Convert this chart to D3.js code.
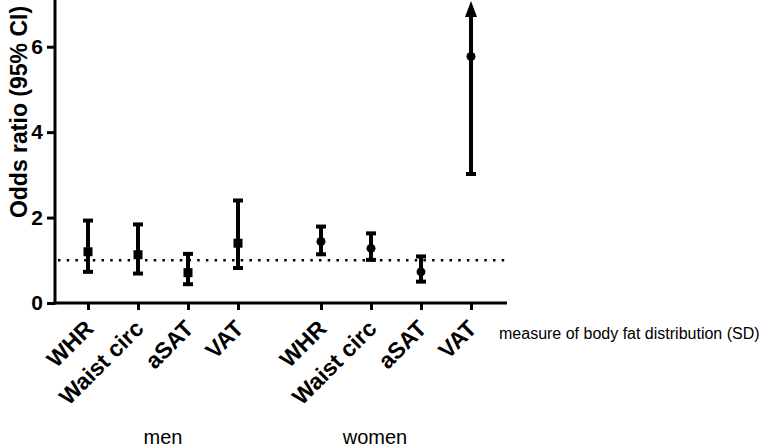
<!DOCTYPE html>
<html><head><meta charset="utf-8">
<script src="https://cdn.jsdelivr.net/npm/d3@7"></script>
<style>
body{margin:0;background:#fff;}
svg{display:block;font-family:"Liberation Sans",Arial,sans-serif;}
</style></head>
<body><svg id="c" width="765" height="447"></svg>
<script>
const categories = ["WHR","Waist circ","aSAT","VAT"];
const groups = ["men","women"];
const menOR    = [1.20, 1.13, 0.71, 1.40];
const menLow   = [0.73, 0.69, 0.44, 0.82];
const menHigh  = [1.93, 1.84, 1.15, 2.40];
const womenOR  = [1.44, 1.28, 0.73, 5.77];
const womenLow = [1.14, 1.01, 0.50, 3.02];
const womenHigh= [1.79, 1.63, 1.09, null]; // null: upper limit beyond axis (arrow)
const yTicks = [0,2,4,6];
const refLine = 1;
const yMax = 7;
const xTitle = "measure of body fat distribution (SD)";
const yTitle = "Odds ratio (95% CI)";

const svg = d3.select("#c");
const axisY = 303, axisX = 55, axisRight = 507;
const y = d3.scaleLinear().domain([0, yMax]).range([axisY, 4]);
const gapSlots = 0.66;
const x = d3.scaleLinear().domain([-0.66, 8.38]).range([axisX, axisRight]);

const points = [];
categories.forEach((c,i)=>points.push({g:0,c,slot:i,or:menOR[i],lo:menLow[i],hi:menHigh[i]}));
categories.forEach((c,i)=>points.push({g:1,c,slot:4+gapSlots+i,or:womenOR[i],lo:womenLow[i],hi:womenHigh[i]}));

// reference line
svg.append("line").attr("x1",axisX+3).attr("x2",axisRight).attr("y1",y(refLine)).attr("y2",y(refLine))
  .attr("stroke","#000").attr("stroke-width",2.5).attr("stroke-dasharray","2.5,6.2");

// axes
const yAxis = d3.axisLeft(y).tickValues(yTicks).tickSize(8).tickPadding(4).tickFormat(d3.format("d"));
const gy = svg.append("g").attr("transform",`translate(${axisX},0)`).call(yAxis);
gy.select(".domain").remove();
gy.append("line").attr("x1",0).attr("x2",0).attr("y1",0).attr("y2",axisY+1.5).attr("stroke","#000").attr("stroke-width",3);
gy.selectAll(".tick line").attr("stroke-width",3);
gy.selectAll(".tick text").attr("font-size",21).attr("font-weight","bold").attr("fill","#000").attr("font-family","Liberation Sans, Arial");

const xAxis = d3.axisBottom(x).tickValues(points.map(p=>p.slot)).tickSize(7).tickFormat("");
const gx = svg.append("g").attr("transform",`translate(0,${axisY})`).call(xAxis);
gx.select(".domain").remove();
gx.append("line").attr("x1",axisX-1.5).attr("x2",axisRight).attr("y1",0).attr("y2",0).attr("stroke","#000").attr("stroke-width",3);
gx.selectAll(".tick line").attr("stroke-width",3);

// category labels
svg.append("g").selectAll("text").data(points).join("text")
  .attr("transform",p=>`translate(${x(p.slot)+7},${axisY+27}) rotate(-45)`)
  .attr("text-anchor","end").attr("font-size",23).attr("font-weight","bold").text(p=>p.c);

// group labels
const groupX = [ (x(0)+x(3))/2, (x(4+gapSlots)+x(7+gapSlots))/2 - 21 ];
svg.append("g").selectAll("text").data(groups).join("text")
  .attr("x",(d,i)=>groupX[i]).attr("y",444).attr("text-anchor","middle").attr("font-size",20).text(d=>d);

svg.append("text").attr("x",499).attr("y",339).attr("font-size",16).text(xTitle);
svg.append("text").attr("transform","translate(27,112) rotate(-90)").attr("text-anchor","middle")
  .attr("font-size",23).attr("font-weight","bold").text(yTitle);

// error bars
const eb = svg.append("g");
points.forEach(p=>{
  const cx = x(p.slot);
  const top = p.hi==null ? y(yMax) : y(p.hi);
  eb.append("line").attr("x1",cx).attr("x2",cx).attr("y1",y(p.lo)).attr("y2",p.hi==null?top+12:top)
    .attr("stroke","#000").attr("stroke-width",4);
  eb.append("line").attr("x1",cx-5).attr("x2",cx+5).attr("y1",y(p.lo)).attr("y2",y(p.lo)).attr("stroke","#000").attr("stroke-width",4);
  if(p.hi!=null){
    eb.append("line").attr("x1",cx-5).attr("x2",cx+5).attr("y1",top).attr("y2",top).attr("stroke","#000").attr("stroke-width",4);
  } else {
    eb.append("path").attr("d",`M${cx},${top-3}L${cx-6},${top+13}L${cx+6},${top+13}Z`).attr("fill","#000");
  }
  if(p.g===0){
    eb.append("rect").attr("x",cx-4.5).attr("y",y(p.or)-4.5).attr("width",9).attr("height",9).attr("fill","#000");
  } else {
    eb.append("circle").attr("cx",cx).attr("cy",y(p.or)).attr("r",4.5).attr("fill","#000");
  }
});
</script></body></html>
